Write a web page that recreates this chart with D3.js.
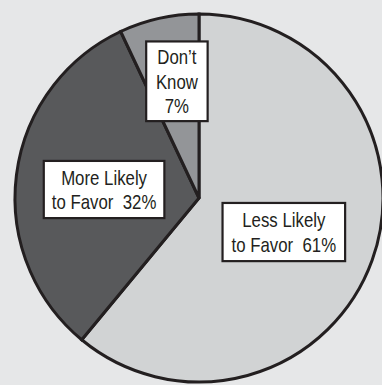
<!DOCTYPE html>
<html>
<head>
<meta charset="utf-8">
<script src="https://cdn.jsdelivr.net/npm/d3@7"></script>
<style>
  html, body { margin: 0; padding: 0; background: #e6e7e8; }
  svg { display: block; }
  text { font-family: "Liberation Sans", Arial, sans-serif; fill: #231f20; white-space: pre; }
</style>
</head>
<body>
<svg id="chart" width="382" height="385"></svg>
<script>
// Survey shares, drawn clockwise from twelve o'clock
const categories = ["Less Likely to Favor", "More Likely to Favor", "Don\u2019t Know"];
const values = [61, 32, 7];
const labelLines = [
  ["Less Likely", "to Favor  61%"],
  ["More Likely", "to Favor  32%"],
  ["Don\u2019t", "Know", "7%"]
];

const fills = ["#d1d3d4", "#58595b", "#939598"];

const W = 382, H = 385;
const cx = 199, cy = 198, R = 184;
const fontSize = 20.5, lineH = 24.5;
const squeeze = 0.82;   // condensed look for the label face

// label placement: fraction of the radius along the slice's mid-angle, plus a nudge
const labelPlace = [
  { k: 0.49, dx: 0, dy: 3.5, padX: 9, padY: 9.5 },
  { k: 0.52, dx: 0, dy: 3.5, padX: 8, padY: 9 },
  { k: 0.65, dx: 4, dy: 0, padX: 9.5, padY: 8 }
];

const svg = d3.select("#chart");
svg.append("rect").attr("width", W).attr("height", H).attr("fill", "#e6e7e8");

const g = svg.append("g").attr("transform", `translate(${cx},${cy})`);

const pie = d3.pie().sort(null).value(d => d.value).startAngle(0).endAngle(2 * Math.PI);
const data = categories.map((c, i) => ({ name: c, value: values[i], lines: labelLines[i], fill: fills[i] }));
const arcs = pie(data);

const arc = d3.arc().innerRadius(0).outerRadius(R);

g.selectAll("path.slice")
  .data(arcs)
  .join("path")
  .attr("class", "slice")
  .attr("d", arc)
  .attr("fill", d => d.data.fill)
  .attr("stroke", "#231f20")
  .attr("stroke-width", 3)
  .attr("stroke-linejoin", "miter");

// labels in white boxes
const capH = 0.716 * fontSize;
arcs.forEach((a, i) => {
  const p = labelPlace[i];
  const mid = (a.startAngle + a.endAngle) / 2;
  const lx = Math.sin(mid) * R * p.k + p.dx;
  const ly = -Math.cos(mid) * R * p.k + p.dy;
  const lines = a.data.lines;
  const blockH = capH + (lines.length - 1) * lineH;
  const firstBase = ly - blockH / 2 + capH;

  const lg = g.append("g");
  const rect = lg.append("rect");
  const txt = lg.append("text")
    .attr("transform", `translate(${lx},0) scale(${squeeze},1)`)
    .attr("text-anchor", "middle")
    .attr("font-size", fontSize);
  lines.forEach((ln, j) => {
    txt.append("tspan")
      .attr("x", 0)
      .attr("y", firstBase + j * lineH)
      .text(ln);
  });
  const tw = txt.node().getBBox().width * squeeze;
  rect.attr("x", lx - tw / 2 - p.padX)
    .attr("y", ly - blockH / 2 - p.padY)
    .attr("width", tw + 2 * p.padX)
    .attr("height", blockH + 2 * p.padY)
    .attr("fill", "#ffffff")
    .attr("stroke", "#231f20")
    .attr("stroke-width", 2.2);
});
</script>
</body>
</html>
